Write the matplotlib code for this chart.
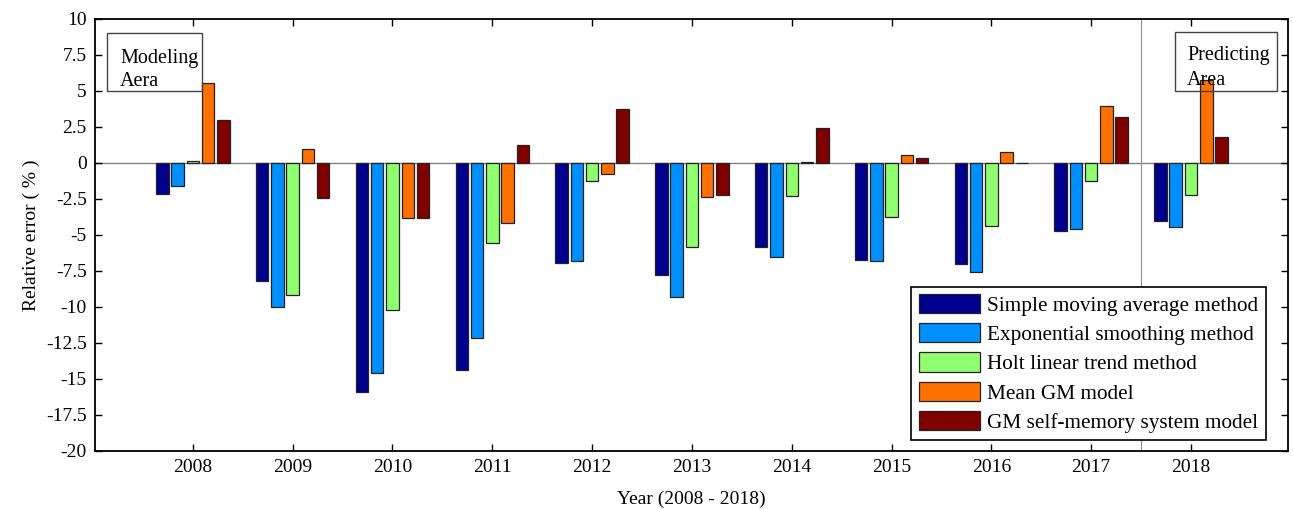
import matplotlib
matplotlib.use("Agg")
import matplotlib.pyplot as plt
import numpy as np
from matplotlib.patches import Rectangle

plt.rcParams['font.family'] = ['Liberation Serif', 'DejaVu Serif']
plt.rcParams['axes.unicode_minus'] = False

years = [2008, 2009, 2010, 2011, 2012, 2013, 2014, 2015, 2016, 2017, 2018]
series_names = ["Simple moving average method", "Exponential smoothing method",
                "Holt linear trend method", "Mean GM model", "GM self-memory system model"]
sma = [-2.15, -8.22, -15.88, -14.40, -6.94, -7.80, -5.86, -6.71, -7.04, -4.70, -4.05]
exp_s = [-1.62, -10.02, -14.61, -12.18, -6.81, -9.28, -6.50, -6.83, -7.57, -4.61, -4.47]
holt = [0.12, -9.19, -10.23, -5.53, -1.27, -5.86, -2.31, -3.75, -4.38, -1.27, -2.22]
mean_gm = [5.56, 0.97, -3.84, -4.14, -0.74, -2.34, 0.04, 0.53, 0.74, 3.94, 5.76]
gm_sm = [2.99, -2.45, -3.84, 1.27, 3.73, -2.22, 2.45, 0.32, 0.02, 3.19, 1.81]
colors = ['#00008F', '#008FFF', '#8FFF70', '#FF7000', '#800000']
yticks = [10, 7.5, 5, 2.5, 0, -2.5, -5, -7.5, -10, -12.5, -15, -17.5, -20]
ytick_labels = ['10', '7.5', '5', '2.5', '0', '-2.5', '-5', '-7.5', '-10', '-12.5', '-15', '-17.5', '-20']

fig = plt.figure(figsize=(12.93, 5.09), dpi=100)
ax = fig.add_axes([0.0735, 0.114, 0.9225, 0.849])

x = np.array(years, dtype=float)
spacing = 0.153
width = 0.125
data = [sma, exp_s, holt, mean_gm, gm_sm]
ax.axhline(0, color='#808080', lw=1.0, zorder=1)
for i, (vals, c, name) in enumerate(zip(data, colors, series_names)):
    ax.bar(x + (i - 2) * spacing, vals, width=width, color=c, edgecolor='#222222',
           linewidth=0.9, label=name, zorder=2)

ax.axvline(2017.5, color='#909090', lw=0.8, zorder=1)

ax.set_xlim(2007.02, 2018.97)
ax.set_ylim(-20, 10)
ax.set_xticks(years)
ax.set_xticklabels([str(y) for y in years], fontsize=14)
ax.set_yticks(yticks)
ax.set_yticklabels(ytick_labels, fontsize=14)
ax.tick_params(direction='in', top=True, right=True, length=5, width=1, pad=6)
for s in ax.spines.values():
    s.set_linewidth(1.3)

ax.set_xlabel("Year (2008 - 2018)", fontsize=14, labelpad=10)
ax.set_ylabel("Relative error ( % )", fontsize=14, labelpad=4)

# area boxes
ax.add_patch(Rectangle((2007.14, 5.0), 0.95, 4.05, fill=False, edgecolor='#444444', lw=1.0, zorder=3))
ax.text(2007.27, 6.94, "Modeling", fontsize=14.5, va='baseline', ha='left', zorder=4)
ax.text(2007.27, 5.35, "Aera", fontsize=14.5, va='baseline', ha='left', zorder=4)
ax.add_patch(Rectangle((2017.84, 5.0), 1.02, 4.1, fill=False, edgecolor='#444444', lw=1.0, zorder=3))
ax.text(2017.96, 7.15, "Predicting", fontsize=14.5, va='baseline', ha='left', zorder=4)
ax.text(2017.96, 5.42, "Area", fontsize=14.5, va='baseline', ha='left', zorder=4)

leg = ax.legend(loc='lower right', bbox_to_anchor=(0.9815, 0.025), fontsize=15.3, frameon=True,
                fancybox=False, edgecolor='black', framealpha=1, handlelength=2.87, handleheight=1.0,
                handletextpad=0.35, labelspacing=0.35, borderpad=0.35, borderaxespad=0)
leg.get_frame().set_linewidth(1.2)

fig.savefig("out.png", dpi=100)
